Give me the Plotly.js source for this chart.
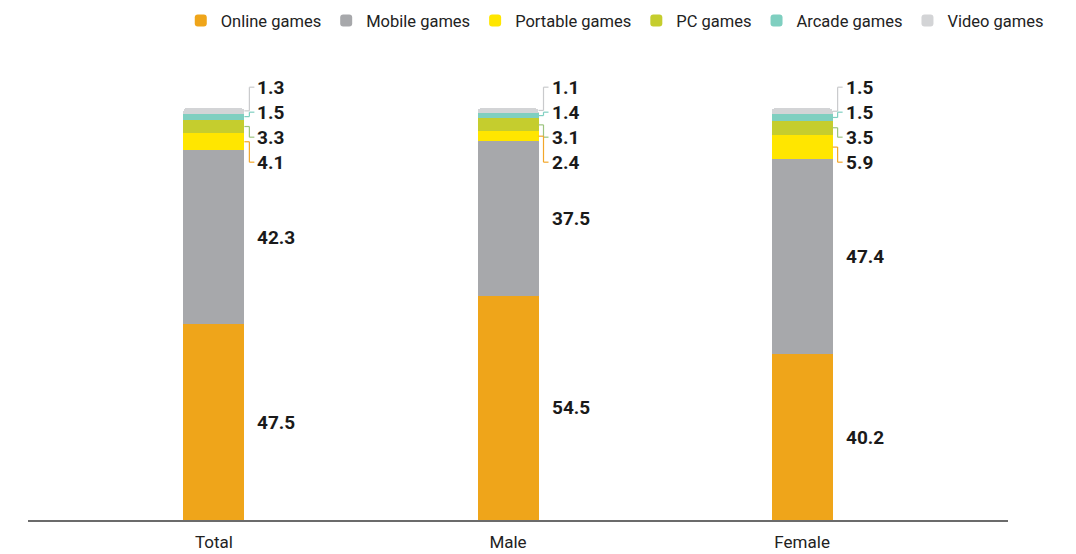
<!DOCTYPE html>
<html>
<head>
<meta charset="utf-8">
<script src="https://cdn.plot.ly/plotly-3.0.1.min.js"></script>
<style>
html,body{margin:0;padding:0;background:#fff;}
#chart{width:1076px;height:554px;}
</style>
</head>
<body>
<div id="chart"></div>
<script>
// ---- data ----
const categories = ['Total', 'Male', 'Female'];
const seriesNames = ['Online games', 'Mobile games', 'Portable games', 'PC games', 'Arcade games', 'Video games'];
const onlineGames   = [47.5, 54.5, 40.2];
const mobileGames   = [42.3, 37.5, 47.4];
const portableGames = [4.1, 2.4, 5.9];
const pcGames       = [3.3, 3.1, 3.5];
const arcadeGames   = [1.5, 1.4, 1.5];
const videoGames    = [1.3, 1.1, 1.5];

// ---- styles ----
const colors = ['#EFA51A', '#A7A8AB', '#FFE600', '#C5CD2E', '#7FCFC0', '#D3D4D6'];
const leaderColors = [null, null, '#F2A72A', '#9CC47E', '#7FCFC0', '#C9CACC'];
const seriesValues = [onlineGames, mobileGames, portableGames, pcGames, arcadeGames, videoGames];

const FONT = '"Liberation Sans Narrow", Roboto, sans-serif';
const W = 1076, H = 554;
const margin = {l: 28, r: 68, t: 67, b: 34, pad: 0};
const xRange = [-0.632, 2.70];
const yRange = [0, 110];
const plotW = W - margin.l - margin.r;
const plotH = H - margin.t - margin.b;
const pxX = plotW / (xRange[1] - xRange[0]);   // px per x unit
const pxY = plotH / (yRange[1] - yRange[0]);   // px per y unit
const barW = 61 / pxX;

const traces = seriesNames.map((name, s) => ({
  type: 'bar',
  name: name,
  x: categories,
  y: seriesValues[s],
  width: barW,
  marker: {color: colors[s], line: {width: 0}},
  hoverinfo: 'name+y'
}));

const annotations = [];
const shapes = [];
const labelFont = {family: FONT, size: 19, color: '#1a1a1a', weight: 700};

categories.forEach((cat, i) => {
  let cum = 0;
  const mids = [];
  seriesValues.forEach((vals, s) => {
    mids.push(cum + vals[i] / 2);
    cum += vals[i];
  });
  const barRight = i + barW / 2;
  const textX = barRight + 11 / pxX;
  // large segments: label at segment middle
  [0, 1].forEach(s => {
    annotations.push({
      x: textX, y: mids[s], xref: 'x', yref: 'y',
      text: seriesValues[s][i].toFixed(1), showarrow: false,
      xanchor: 'left', yanchor: 'middle', font: labelFont
    });
  });
  // small segments: stacked labels with elbow leader lines
  const smallOrder = [5, 4, 3, 2]; // top to bottom
  const topLabelY = cum + 5.1;
  const step = 25 / pxY;
  smallOrder.forEach((s, k) => {
    const ly = topLabelY - k * step;
    annotations.push({
      x: textX, y: ly, xref: 'x', yref: 'y',
      text: seriesValues[s][i].toFixed(1), showarrow: false,
      xanchor: 'left', yanchor: 'middle', font: labelFont
    });
    const elbowX = barRight + 5 / pxX;
    const endX = barRight + 10 / pxX;
    const lineStyle = {color: leaderColors[s], width: 1.2};
    shapes.push({type: 'line', xref: 'x', yref: 'y', x0: barRight, x1: elbowX, y0: mids[s], y1: mids[s], line: lineStyle});
    shapes.push({type: 'line', xref: 'x', yref: 'y', x0: elbowX, x1: elbowX, y0: mids[s], y1: ly, line: lineStyle});
    shapes.push({type: 'line', xref: 'x', yref: 'y', x0: elbowX, x1: endX, y0: ly, y1: ly, line: lineStyle});
  });
});

const layout = {
  width: W, height: H,
  margin: margin,
  paper_bgcolor: '#fff', plot_bgcolor: '#fff',
  barmode: 'stack',
  barcornerradius: 4,
  showlegend: true,
  legend: {
    orientation: 'h', xref: 'container', yref: 'container',
    x: 0.168, xanchor: 'left', y: 0.994, yanchor: 'top',
    font: {family: FONT, size: 16.5, color: '#222'},
    itemclick: false, itemdoubleclick: false, traceorder: 'normal'
  },
  xaxis: {
    type: 'category', range: xRange, fixedrange: true, automargin: false,
    showline: true, linecolor: '#6b6b6b', linewidth: 2,
    showgrid: false, zeroline: false, ticks: '', ticklabelstandoff: 6,
    tickfont: {family: FONT, size: 17, color: '#222'}
  },
  yaxis: {
    range: yRange, fixedrange: true, visible: false, automargin: false,
    showgrid: false, zeroline: false
  },
  annotations: annotations,
  shapes: shapes
};

Plotly.newPlot('chart', traces, layout, {displayModeBar: false, staticPlot: true});
</script>
</body>
</html>
